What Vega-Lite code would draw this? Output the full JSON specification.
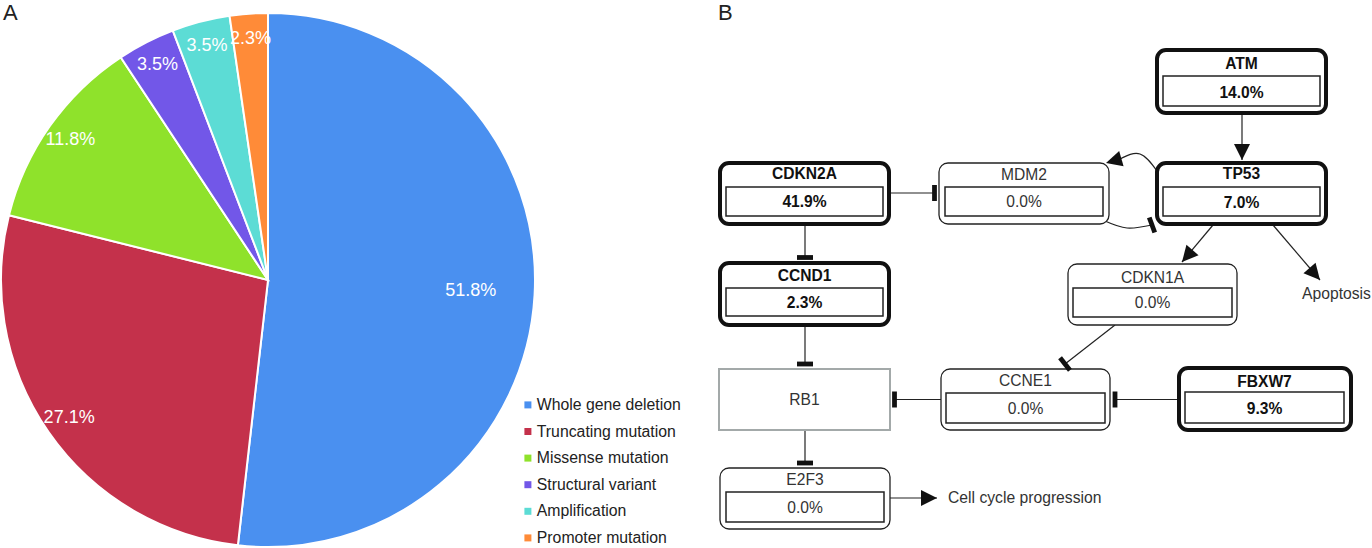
{
  "$schema": "https://vega.github.io/schema/vega-lite/v6.json",
  "width": 1372,
  "height": 548,
  "autosize": "none",
  "padding": 0,
  "background": "white",
  "config": {
    "view": {"stroke": null},
    "font": "Liberation Sans",
    "legend": {
      "orient": "none",
      "legendX": 520,
      "legendY": 397,
      "symbolType": "square",
      "symbolSize": 49,
      "symbolStrokeWidth": 0,
      "labelFontSize": 15.8,
      "labelFont": "Liberation Sans",
      "labelColor": "#222",
      "labelOffset": 1,
      "rowPadding": 9.6,
      "padding": 0
    }
  },
  "datasets": {
    "slices": [
      {"idx": 1, "type": "Whole gene deletion", "share": 51.8, "label": "51.8%"},
      {"idx": 2, "type": "Truncating mutation", "share": 27.1, "label": "27.1%"},
      {"idx": 3, "type": "Missense mutation", "share": 11.8, "label": "11.8%"},
      {"idx": 4, "type": "Structural variant", "share": 3.5, "label": "3.5%"},
      {"idx": 5, "type": "Amplification", "share": 3.5, "label": "3.5%"},
      {"idx": 6, "type": "Promoter mutation", "share": 2.3, "label": "2.3%"}
    ],
    "nodes": [
      {"gene": "ATM", "value": "14.0%", "kind": "altered", "x1": 1157, "x2": 1326, "y1": 50, "y2": 113, "ix1": 1163, "ix2": 1320, "iy1": 76, "iy2": 106, "cx": 1241.5, "ty": 64, "vy": 93},
      {"gene": "CDKN2A", "value": "41.9%", "kind": "altered", "x1": 720, "x2": 889, "y1": 163, "y2": 224, "ix1": 726, "ix2": 883, "iy1": 187, "iy2": 216, "cx": 804.5, "ty": 174, "vy": 202},
      {"gene": "MDM2", "value": "0.0%", "kind": "unaltered", "x1": 939, "x2": 1109, "y1": 163, "y2": 224, "ix1": 945, "ix2": 1103, "iy1": 187, "iy2": 216, "cx": 1024, "ty": 175, "vy": 202},
      {"gene": "TP53", "value": "7.0%", "kind": "altered", "x1": 1157, "x2": 1326, "y1": 163, "y2": 224, "ix1": 1163, "ix2": 1320, "iy1": 187, "iy2": 216, "cx": 1241.5, "ty": 174, "vy": 202.5},
      {"gene": "CCND1", "value": "2.3%", "kind": "altered", "x1": 720, "x2": 889, "y1": 263, "y2": 325, "ix1": 726, "ix2": 883, "iy1": 288, "iy2": 316, "cx": 804.5, "ty": 275.5, "vy": 302.5},
      {"gene": "CDKN1A", "value": "0.0%", "kind": "unaltered", "x1": 1068, "x2": 1237, "y1": 264, "y2": 325, "ix1": 1073, "ix2": 1232, "iy1": 288, "iy2": 317, "cx": 1152.5, "ty": 277.5, "vy": 302.5},
      {"gene": "RB1", "value": null, "kind": "plain", "x1": 719, "x2": 890, "y1": 369, "y2": 430, "cx": 804.5, "ty": 399.5},
      {"gene": "CCNE1", "value": "0.0%", "kind": "unaltered", "x1": 941, "x2": 1110, "y1": 369, "y2": 430, "ix1": 946, "ix2": 1105, "iy1": 393, "iy2": 423, "cx": 1025.5, "ty": 381, "vy": 409},
      {"gene": "FBXW7", "value": "9.3%", "kind": "altered", "x1": 1179, "x2": 1351, "y1": 368, "y2": 430, "ix1": 1185, "ix2": 1344, "iy1": 392, "iy2": 423, "cx": 1264.5, "ty": 382, "vy": 409},
      {"gene": "E2F3", "value": "0.0%", "kind": "unaltered", "x1": 720, "x2": 890, "y1": 468, "y2": 529, "ix1": 726, "ix2": 884, "iy1": 492, "iy2": 522, "cx": 805, "ty": 479.5, "vy": 507.5}
    ],
    "edges": [
      {"edge": "ATM-TP53", "effect": "activation", "x1": 1242, "y1": 113, "x2": 1242, "y2": 160, "angle": 180},
      {"edge": "CDKN2A-MDM2", "effect": "inhibition", "x1": 889, "y1": 193, "x2": 934.5, "y2": 193, "angle": 90},
      {"edge": "CDKN2A-CCND1", "effect": "inhibition", "x1": 805, "y1": 224, "x2": 805, "y2": 257.5, "angle": 0},
      {"edge": "CCND1-RB1", "effect": "inhibition", "x1": 805, "y1": 325, "x2": 805, "y2": 364, "angle": 0},
      {"edge": "RB1-E2F3", "effect": "inhibition", "x1": 805, "y1": 430, "x2": 805, "y2": 463, "angle": 0},
      {"edge": "CCNE1-RB1", "effect": "inhibition", "x1": 941, "y1": 399.5, "x2": 894.5, "y2": 399.5, "angle": 90},
      {"edge": "FBXW7-CCNE1", "effect": "inhibition", "x1": 1179, "y1": 399.5, "x2": 1115, "y2": 399.5, "angle": 90},
      {"edge": "CDKN1A-CCNE1", "effect": "inhibition", "x1": 1115, "y1": 325, "x2": 1065, "y2": 364, "angle": 232},
      {"edge": "TP53-CDKN1A", "effect": "activation", "x1": 1213, "y1": 225, "x2": 1182, "y2": 262, "angle": 221},
      {"edge": "TP53-Apoptosis", "effect": "activation", "x1": 1273, "y1": 225, "x2": 1320, "y2": 280, "angle": 139},
      {"edge": "E2F3-Cell cycle progression", "effect": "activation", "x1": 890, "y1": 498, "x2": 937, "y2": 498, "angle": 90},
      {"edge": "TP53-MDM2", "effect": "activation", "x1": null, "y1": null, "x2": 1106, "y2": 163, "angle": 254},
      {"edge": "MDM2-TP53", "effect": "inhibition", "x1": null, "y1": null, "x2": 1152, "y2": 225, "angle": 70}
    ],
    "curves": [
      {"edge": "TP53-MDM2", "step": 1, "x": 1157, "y": 171},
      {"edge": "TP53-MDM2", "step": 2, "x": 1140, "y": 154},
      {"edge": "TP53-MDM2", "step": 3, "x": 1120, "y": 159},
      {"edge": "MDM2-TP53", "step": 1, "x": 1105, "y": 221},
      {"edge": "MDM2-TP53", "step": 2, "x": 1127, "y": 228},
      {"edge": "MDM2-TP53", "step": 3, "x": 1152, "y": 225}
    ],
    "notes": [
      {"role": "panel", "text": "A", "x": 3, "y": 2.5},
      {"role": "panel", "text": "B", "x": 718, "y": 2.5},
      {"role": "outcome", "text": "Apoptosis", "x": 1302, "y": 294},
      {"role": "outcome", "text": "Cell cycle progression", "x": 948, "y": 498}
    ]
  },
  "layer": [
    {
      "data": {"name": "slices"},
      "mark": {"type": "arc", "outerRadius": 267, "stroke": "white", "strokeWidth": 2},
      "encoding": {
        "x": {"datum": 268, "type": "quantitative", "scale": {"domain": [0, 1372], "nice": false, "zero": false}, "axis": null},
        "y": {"datum": 280, "type": "quantitative", "scale": {"domain": [0, 548], "nice": false, "zero": false, "reverse": true}, "axis": null},
        "theta": {"field": "share", "type": "quantitative", "stack": true},
        "order": {"field": "idx", "type": "quantitative"},
        "color": {
          "field": "type", "type": "nominal",
          "scale": {
            "domain": ["Whole gene deletion", "Truncating mutation", "Missense mutation", "Structural variant", "Amplification", "Promoter mutation"],
            "range": ["#4a90f0", "#c4314b", "#8fe22b", "#7257e8", "#5cdcd5", "#ff8b38"]
          },
          "legend": {"title": null}
        }
      }
    },
    {
      "data": {"name": "slices"},
      "mark": {"type": "text", "radius": 203, "fontSize": 18, "color": "white", "baseline": "middle", "align": "center"},
      "encoding": {
        "x": {"datum": 268, "type": "quantitative"},
        "y": {"datum": 280, "type": "quantitative"},
        "theta": {"field": "share", "type": "quantitative", "stack": true},
        "order": {"field": "idx", "type": "quantitative"},
        "text": {"field": "label", "type": "nominal", "condition": {"test": "datum.share <= 50", "value": ""}}
      }
    },
    {
      "data": {"name": "slices"},
      "mark": {"type": "text", "radius": 242, "fontSize": 18, "color": "white", "baseline": "middle", "align": "center"},
      "encoding": {
        "x": {"datum": 268, "type": "quantitative"},
        "y": {"datum": 280, "type": "quantitative"},
        "theta": {"field": "share", "type": "quantitative", "stack": true},
        "order": {"field": "idx", "type": "quantitative"},
        "text": {"field": "label", "type": "nominal", "condition": {"test": "datum.share > 50", "value": ""}}
      }
    },
    {
      "data": {"name": "edges"},
      "transform": [{"filter": "isValid(datum.x1)"}],
      "mark": {"type": "rule", "color": "#222", "strokeWidth": 1.2},
      "encoding": {
        "x": {"field": "x1", "type": "quantitative"},
        "y": {"field": "y1", "type": "quantitative"},
        "x2": {"field": "x2"},
        "y2": {"field": "y2"}
      }
    },
    {
      "data": {"name": "curves"},
      "mark": {"type": "line", "interpolate": "natural", "color": "#222", "strokeWidth": 1.2},
      "encoding": {
        "x": {"field": "x", "type": "quantitative"},
        "y": {"field": "y", "type": "quantitative"},
        "detail": {"field": "edge", "type": "nominal"},
        "order": {"field": "step", "type": "quantitative"}
      }
    },
    {
      "data": {"name": "nodes"},
      "transform": [{"filter": "datum.kind === 'altered'"}],
      "mark": {"type": "rect", "cornerRadius": 9, "fill": "white", "stroke": "#111", "strokeWidth": 4},
      "encoding": {
        "x": {"field": "x1", "type": "quantitative"},
        "x2": {"field": "x2"},
        "y": {"field": "y1", "type": "quantitative"},
        "y2": {"field": "y2"}
      }
    },
    {
      "data": {"name": "nodes"},
      "transform": [{"filter": "datum.kind === 'unaltered'"}],
      "mark": {"type": "rect", "cornerRadius": 9, "fill": "white", "stroke": "#222", "strokeWidth": 1.3},
      "encoding": {
        "x": {"field": "x1", "type": "quantitative"},
        "x2": {"field": "x2"},
        "y": {"field": "y1", "type": "quantitative"},
        "y2": {"field": "y2"}
      }
    },
    {
      "data": {"name": "nodes"},
      "transform": [{"filter": "datum.kind === 'plain'"}],
      "mark": {"type": "rect", "fill": "white", "stroke": "#a3a9a9", "strokeWidth": 2},
      "encoding": {
        "x": {"field": "x1", "type": "quantitative"},
        "x2": {"field": "x2"},
        "y": {"field": "y1", "type": "quantitative"},
        "y2": {"field": "y2"}
      }
    },
    {
      "data": {"name": "nodes"},
      "transform": [{"filter": "isValid(datum.ix1)"}],
      "mark": {"type": "rect", "fill": "white", "stroke": "#222", "strokeWidth": 1.5},
      "encoding": {
        "x": {"field": "ix1", "type": "quantitative"},
        "x2": {"field": "ix2"},
        "y": {"field": "iy1", "type": "quantitative"},
        "y2": {"field": "iy2"}
      }
    },
    {
      "data": {"name": "nodes"},
      "transform": [{"filter": "datum.kind === 'altered'"}],
      "mark": {"type": "text", "fontSize": 15.6, "fontWeight": "bold", "color": "#111", "baseline": "middle", "align": "center"},
      "encoding": {
        "x": {"field": "cx", "type": "quantitative"},
        "y": {"field": "ty", "type": "quantitative"},
        "text": {"field": "gene", "type": "nominal"}
      }
    },
    {
      "data": {"name": "nodes"},
      "transform": [{"filter": "datum.kind === 'altered'"}],
      "mark": {"type": "text", "fontSize": 15.6, "fontWeight": "bold", "color": "#111", "baseline": "middle", "align": "center"},
      "encoding": {
        "x": {"field": "cx", "type": "quantitative"},
        "y": {"field": "vy", "type": "quantitative"},
        "text": {"field": "value", "type": "nominal"}
      }
    },
    {
      "data": {"name": "nodes"},
      "transform": [{"filter": "datum.kind !== 'altered'"}],
      "mark": {"type": "text", "fontSize": 15.6, "color": "#333", "baseline": "middle", "align": "center"},
      "encoding": {
        "x": {"field": "cx", "type": "quantitative"},
        "y": {"field": "ty", "type": "quantitative"},
        "text": {"field": "gene", "type": "nominal"}
      }
    },
    {
      "data": {"name": "nodes"},
      "transform": [{"filter": "datum.kind === 'unaltered'"}],
      "mark": {"type": "text", "fontSize": 15.6, "color": "#333", "baseline": "middle", "align": "center"},
      "encoding": {
        "x": {"field": "cx", "type": "quantitative"},
        "y": {"field": "vy", "type": "quantitative"},
        "text": {"field": "value", "type": "nominal"}
      }
    },
    {
      "data": {"name": "edges"},
      "transform": [{"filter": "datum.effect === 'activation'"}],
      "mark": {"type": "point", "shape": "M0,0L-2,4L2,4Z", "size": 64, "filled": true, "color": "#111", "opacity": 1, "strokeWidth": 0},
      "encoding": {
        "x": {"field": "x2", "type": "quantitative"},
        "y": {"field": "y2", "type": "quantitative"},
        "angle": {"field": "angle", "type": "quantitative", "scale": null}
      }
    },
    {
      "data": {"name": "edges"},
      "transform": [{"filter": "datum.effect === 'inhibition'"}],
      "mark": {"type": "point", "shape": "M-2,-0.6L2,-0.6L2,0.6L-2,0.6Z", "size": 64, "filled": true, "color": "#111", "opacity": 1, "strokeWidth": 0},
      "encoding": {
        "x": {"field": "x2", "type": "quantitative"},
        "y": {"field": "y2", "type": "quantitative"},
        "angle": {"field": "angle", "type": "quantitative", "scale": null}
      }
    },
    {
      "data": {"name": "notes"},
      "transform": [{"filter": "datum.role === 'panel'"}],
      "mark": {"type": "text", "fontSize": 22, "color": "#222", "baseline": "top", "align": "left"},
      "encoding": {
        "x": {"field": "x", "type": "quantitative"},
        "y": {"field": "y", "type": "quantitative"},
        "text": {"field": "text", "type": "nominal"}
      }
    },
    {
      "data": {"name": "notes"},
      "transform": [{"filter": "datum.role === 'outcome'"}],
      "mark": {"type": "text", "fontSize": 15.7, "color": "#333", "baseline": "middle", "align": "left"},
      "encoding": {
        "x": {"field": "x", "type": "quantitative"},
        "y": {"field": "y", "type": "quantitative"},
        "text": {"field": "text", "type": "nominal"}
      }
    }
  ]
}
